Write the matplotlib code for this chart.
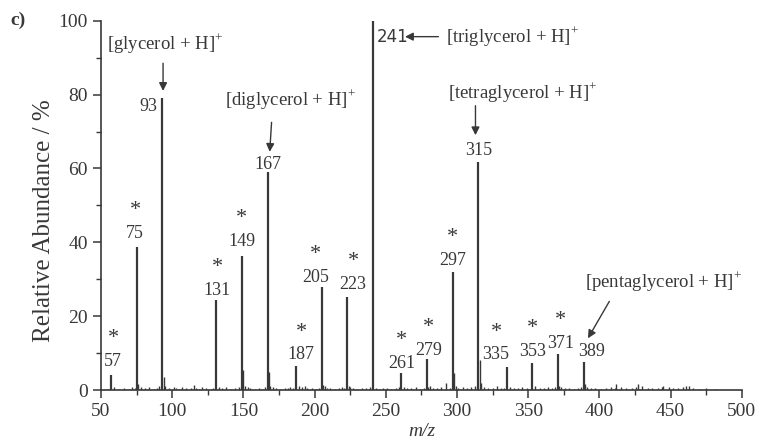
import numpy as np
import matplotlib
matplotlib.use("Agg")
import matplotlib.pyplot as plt

plt.rcParams['font.family'] = ['Liberation Serif', 'DejaVu Serif']

# main labelled peaks (m/z, relative abundance %)
peak_mz = [57, 75, 93, 131, 149, 167, 187, 205, 223, 241, 261, 279, 297, 315, 335, 353, 371, 389]
peak_int = [4.2, 38.8, 79.0, 24.4, 36.3, 59.0, 6.6, 28.0, 25.3, 100.0, 4.6, 8.4, 32.0, 61.8, 6.3, 7.3, 9.8, 7.7]
# peaks marked with an asterisk
star_mz = [57, 75, 131, 149, 187, 205, 223, 261, 279, 297, 335, 353, 371]

# minor / noise peaks
minor_mz = [52, 55, 59, 63, 66, 70, 72, 74, 76, 78, 81, 84, 87, 89, 91, 94, 95, 98, 101, 103, 105,
            107, 110, 113, 115, 117, 119, 121, 124, 127, 129, 133, 135, 138, 141, 144, 147, 150, 151,
            153, 155, 158, 161, 163, 165, 168, 169, 171, 173, 176, 179, 181, 183, 185, 189, 191, 193,
            195, 198, 201, 203, 206, 207, 209, 211, 214, 217, 219, 221, 224, 225, 227, 230, 233, 236,
            239, 243, 245, 248, 251, 254, 257, 259, 263, 265, 268, 271, 274, 277, 280, 281, 283, 286,
            289, 292, 295, 298, 299, 301, 304, 307, 310, 313, 316, 317, 319, 322, 325, 328, 331, 333,
            337, 340, 343, 346, 349, 351, 355, 358, 361, 364, 367, 369, 372, 373, 376, 379, 382, 385,
            387, 390, 391, 394, 397, 401, 405, 408, 411, 412, 415, 419, 423, 426, 427, 430, 434, 437,
            441, 444, 445, 449, 452, 455, 459, 461, 463, 466, 470, 475, 481]
minor_int = [0.4, 0.3, 0.8, 0.3, 0.5, 0.4, 0.9, 0.6, 1.5, 0.8, 0.5, 0.7, 0.4, 0.6, 1.0, 3.6, 1.2, 0.5, 0.9,
             0.6, 0.4, 0.7, 0.5, 0.6, 1.3, 0.5, 0.4, 0.7, 0.5, 0.4, 0.6, 0.9, 0.6, 0.8, 0.4, 0.5, 0.9,
             5.5, 1.2, 0.8, 0.5, 0.4, 0.6, 0.3, 0.7, 5.0, 1.2, 0.9, 0.5, 0.4, 0.6, 0.5, 0.8, 0.6, 1.0,
             0.7, 1.1, 0.6, 0.5, 0.4, 0.6, 1.4, 1.0, 0.6, 0.5, 0.4, 0.6, 0.7, 0.5, 1.0, 0.8, 0.5, 0.4,
             0.6, 0.5, 0.7, 0.6, 0.4, 0.5, 0.6, 0.4, 0.5, 0.7, 0.8, 0.5, 0.6, 0.7, 0.4, 0.6, 0.8, 1.0,
             0.6, 0.5, 0.9, 1.8, 0.6, 4.5, 1.2, 0.5, 0.7, 0.6, 0.8, 1.0, 8.0, 2.0, 0.8, 0.6, 0.5, 1.0,
             0.6, 0.5, 0.7, 0.6, 0.5, 0.8, 0.6, 0.4, 1.0, 0.6, 0.5, 0.7, 0.6, 0.9, 1.2, 0.8, 0.5, 0.6,
             0.4, 0.5, 0.7, 1.5, 0.9, 0.6, 0.5, 0.4, 0.6, 0.7, 0.5, 1.6, 0.8, 0.5, 0.6, 0.7, 1.7, 1.0,
             0.6, 0.5, 0.6, 0.7, 1.1, 0.8, 0.6, 0.5, 0.7, 1.2, 1.0, 0.6, 0.4, 0.5, 0.3]

# where the number label (and asterisk) of each peak sits: (x, y) of the number
label_x = [58.5, 74, 83, 131.5, 149, 167, 190.5, 200.5, 227, 255, 261, 280, 297, 315, 327.5, 353, 373, 394.5]
label_y = [7.7, 42.5, 76.7, 27.0, 40.2, 61.2, 9.5, 30.6, 28.5, 95.7, 7.3, 10.8, 35.2, 65.0, 9.5, 10.4, 12.7, 10.4]
star_dy = 6.2

ink = '#383838'

fig = plt.figure(figsize=(7.61, 4.47), dpi=100)
ax = fig.add_axes([0.1327, 0.1275, 0.842, 0.826])

ax.vlines(minor_mz, 0, minor_int, color=ink, linewidth=1.0)
ax.vlines(peak_mz, 0, peak_int, color=ink, linewidth=1.6)

for mz, lx, ly in zip(peak_mz, label_x, label_y):
    if mz == 241:
        ax.text(lx, ly, str(mz), ha='center', va='center', fontsize=12,
                family=['DejaVu Sans'], color=ink)
    else:
        ax.text(lx, ly, str(mz), ha='center', va='center', fontsize=13, color=ink)
    if mz in star_mz:
        ax.text(lx, ly + star_dy, '*', ha='center', va='center', fontsize=16, color=ink)

arrow = dict(arrowstyle='-|>', color=ink, lw=1.0, mutation_scale=12,
             shrinkA=0, shrinkB=0)
fs_name = 13.5
sup = r'$^{\mathregular{+}}$'
ax.text(95, 93.8, '[glycerol + H]' + sup, ha='center', va='center', fontsize=fs_name, color=ink)
ax.annotate('', xy=(93.6, 81.0), xytext=(93.6, 88.5), arrowprops=arrow)

ax.text(183, 78.6, '[diglycerol + H]' + sup, ha='center', va='center', fontsize=fs_name, color=ink)
ax.annotate('', xy=(168.5, 64.5), xytext=(169.8, 72.5), arrowprops=arrow)

ax.text(292, 95.7, '[triglycerol + H]' + sup, ha='left', va='center', fontsize=fs_name, color=ink)
ax.annotate('', xy=(263.5, 95.7), xytext=(287, 95.7), arrowprops=arrow)

ax.text(346, 80.5, '[tetraglycerol + H]' + sup, ha='center', va='center', fontsize=fs_name, color=ink)
ax.annotate('', xy=(313, 69.0), xytext=(313, 77.0), arrowprops=arrow)

ax.text(445, 29.3, '[pentaglycerol + H]' + sup, ha='center', va='center', fontsize=fs_name, color=ink)
ax.annotate('', xy=(392, 14.0), xytext=(407, 24.0), arrowprops=arrow)

ax.set_xlim(50, 500)
ax.set_ylim(0, 100)
ax.set_xticks(np.arange(50, 501, 50))
ax.set_xticks(np.arange(75, 500, 50), minor=True)
ax.set_yticks(np.arange(0, 101, 20))
ax.set_yticks(np.arange(10, 100, 20), minor=True)
ax.spines['top'].set_visible(False)
ax.spines['right'].set_visible(False)
for s in ['left', 'bottom']:
    ax.spines[s].set_color(ink)
    ax.spines[s].set_linewidth(1.2)
ax.tick_params(axis='both', which='major', direction='out', length=6, width=1.1,
               labelsize=14, colors=ink)
ax.tick_params(axis='both', which='minor', direction='out', length=3.5, width=1.0, colors=ink)

ax.set_ylabel('Relative Abundance / %', fontsize=18, color=ink)
ax.yaxis.set_label_coords(-0.072, 0.46)
ax.set_xlabel('m/z', fontsize=14, style='italic', color=ink, labelpad=2)
fig.text(0.014, 0.945, 'c)', fontsize=14, fontweight='bold', color=ink)

fig.savefig('out.png', dpi=100)
